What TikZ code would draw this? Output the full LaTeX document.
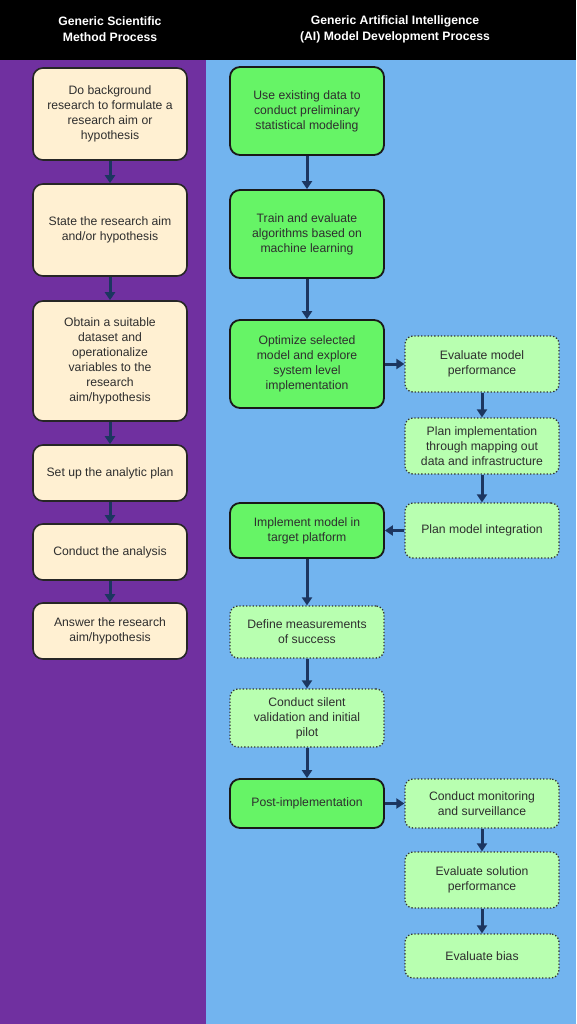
\documentclass[tikz,border=0pt]{standalone}
\usepackage{fontspec}
\setmainfont{Liberation Sans}
\usetikzlibrary{arrows.meta}
\definecolor{headbg}{HTML}{000000}
\definecolor{sciviolet}{HTML}{7030A0}
\definecolor{aiblue}{HTML}{72B4EF}
\definecolor{cream}{HTML}{FFF0D2}
\definecolor{aigreen}{HTML}{66F466}
\definecolor{palegreen}{HTML}{B8FFB0}
\definecolor{navy}{HTML}{1C3660}
\definecolor{boxtext}{HTML}{2E2E2E}

\begin{document}
\begin{tikzpicture}[x=1pt,y=-1pt,
    flow/.style={-{Triangle[width=10pt,length=8pt]},line width=3pt,draw=navy},
    sci node/.style={rectangle,rounded corners=10pt,draw=black!85,line width=1.6pt,
        fill=cream,minimum width=154pt,align=center,text=boxtext,
        font=\fontsize{12.2}{15}\selectfont},
    ai node/.style={rectangle,rounded corners=10pt,draw=black!90,line width=1.8pt,
        fill=aigreen,minimum width=154pt,align=center,text=boxtext,
        font=\fontsize{12.2}{15}\selectfont},
    sub node/.style={rectangle,rounded corners=8pt,draw=black!80,line width=1.3pt,dotted,
        fill=palegreen,minimum width=154pt,align=center,text=boxtext,
        font=\fontsize{12.2}{15}\selectfont}]

\useasboundingbox (0,0) rectangle (576,1024);
\fill[headbg] (0,0) rectangle (576,60);
\fill[sciviolet] (0,60) rectangle (206,1024);
\fill[aiblue] (206,60) rectangle (576,1024);

\node[text=white, align=center, font=\fontsize{12.2}{16}\selectfont\bfseries] (H1) at (110,29)
    {Generic Scientific\\Method Process};
\node[text=white, align=center, font=\fontsize{12.2}{16}\selectfont\bfseries] (H2) at (395,29)
    {Generic Artificial Intelligence\\(AI) Model Development Process};

% scientific method
\node[sci node, minimum height=92pt] (L1) at (110,114) {Do background\\research to formulate a\\research aim or\\hypothesis};
\node[sci node, minimum height=92pt] (L2) at (110,230) {State the research aim\\and/or hypothesis};
\node[sci node, minimum height=120pt] (L3) at (110,361) {Obtain a suitable\\dataset and\\operationalize\\variables to the\\research\\aim/hypothesis};
\node[sci node, minimum height=56pt] (L4) at (110,473) {Set up the analytic plan};
\node[sci node, minimum height=56pt] (L5) at (110,552) {Conduct the analysis};
\node[sci node, minimum height=56pt] (L6) at (110,631) {Answer the research\\aim/hypothesis};

% AI model development
\node[ai node, minimum height=88pt] (M1) at (307,111) {Use existing data to\\conduct preliminary\\statistical modeling};
\node[ai node, minimum height=88pt] (M2) at (307,234) {Train and evaluate\\algorithms based on\\machine learning};
\node[ai node, minimum height=88pt] (M3) at (307,364) {Optimize selected\\model and explore\\system level\\implementation};
\node[ai node, minimum height=55pt] (M4) at (307,530.5) {Implement model in\\target platform};
\node[sub node, minimum height=52pt] (M5) at (307,632) {Define measurements\\of success};
\node[sub node, minimum height=58pt] (M6) at (307,718) {Conduct silent\\validation and initial\\pilot};
\node[ai node, minimum height=49pt] (M7) at (307,803.5) {Post-implementation};

\node[sub node, minimum height=56pt] (S1) at (482,364) {Evaluate model\\performance};
\node[sub node, minimum height=56pt] (S2) at (482,446) {Plan implementation\\through mapping out\\data and infrastructure};
\node[sub node, minimum height=55pt] (S3) at (482,530.5) {Plan model integration};
\node[sub node, minimum height=49pt] (S4) at (482,803.5) {Conduct monitoring\\and surveillance};
\node[sub node, minimum height=56pt] (S5) at (482,880) {Evaluate solution\\performance};
\node[sub node, minimum height=44pt] (S6) at (482,956) {Evaluate bias};

\foreach \a/\b in {L1/L2,L2/L3,L3/L4,L4/L5,L5/L6,M1/M2,M2/M3,M4/M5,M5/M6,M6/M7,S1/S2,S2/S3,S4/S5,S5/S6}
    \draw[flow] (\a.south) -- (\b.north);
\draw[flow] (M3.east) -- (S1.west);
\draw[flow] (S3.west) -- (M4.east);
\draw[flow] (M7.east) -- (S4.west);

\end{tikzpicture}
\end{document}
